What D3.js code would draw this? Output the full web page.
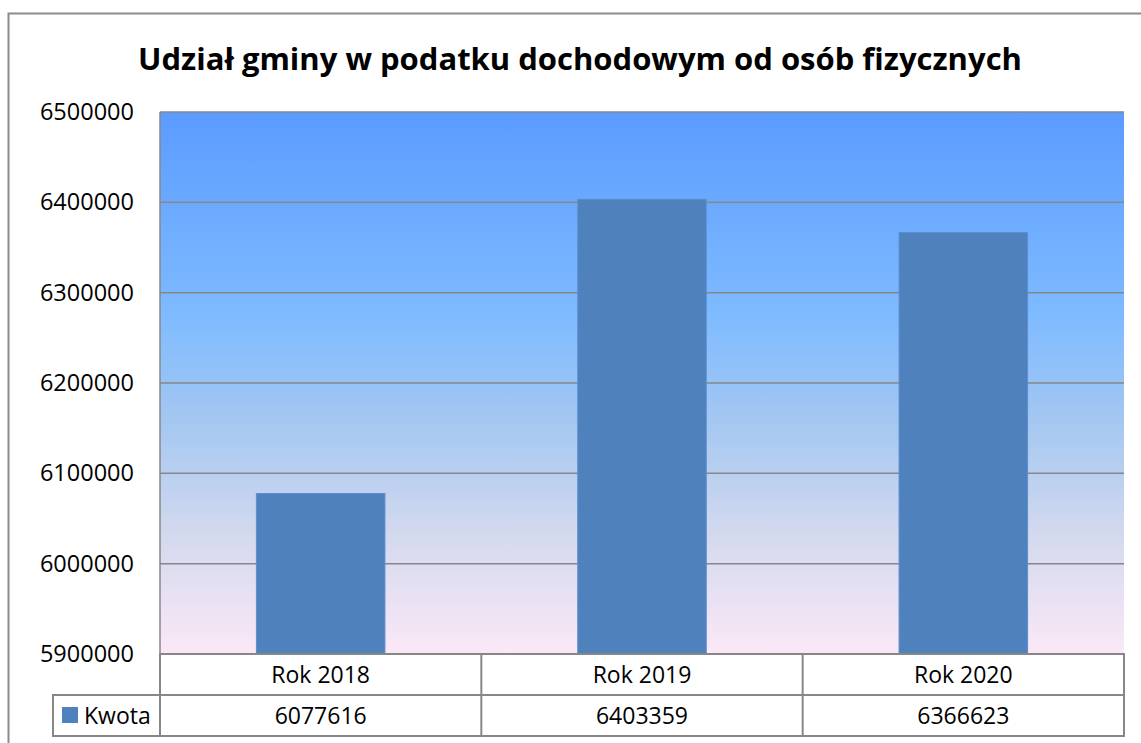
<!DOCTYPE html>
<html>
<head>
<meta charset="utf-8">
<script src="https://cdn.jsdelivr.net/npm/d3@7"></script>
<style>
  body { margin: 0; background: #fff; }
  text { font-family: "Open Sans", sans-serif; fill: #000; }
</style>
</head>
<body>
<svg id="chart"></svg>
<script>
// chart data
const categories = ["Rok 2018", "Rok 2019", "Rok 2020"];
const values = [6077616, 6403359, 6366623];
const seriesName = "Kwota";
const yTicks = [5900000, 6000000, 6100000, 6200000, 6300000, 6400000, 6500000];

let width = 1141;
let height = 743;

let margin = { top: 112, right: 17, bottom: 89, left: 160 };

let svg = d3.select("#chart")
    .attr("width", width)
    .attr("height", height);

// outer chart frame
svg.append("rect")
    .attr("x", 8.5)
    .attr("y", 13.5)
    .attr("width", 1140)
    .attr("height", 740)
    .attr("fill", "white")
    .attr("stroke", "#8c8c8c")
    .attr("stroke-width", 2);

// background gradient of plot area
let defs = svg.append("defs");
let grad = defs.append("linearGradient")
    .attr("id", "bg")
    .attr("x1", 0).attr("y1", 0).attr("x2", 0).attr("y2", 1);
[["0%", "#5b9bff"], ["38%", "#7fbbff"], ["58%", "#a6c8f1"], ["78%", "#d3d9ee"], ["100%", "#fbe8f7"]]
    .forEach(s => grad.append("stop").attr("offset", s[0]).attr("stop-color", s[1]));

let xScale = d3.scaleBand()
    .domain(categories)
    .range([margin.left, width - margin.right])
    .paddingInner(0.6)
    .paddingOuter(0.3);

let yScale = d3.scaleLinear()
    .domain([5900000, 6500000])
    .range([height - margin.bottom, margin.top]);

svg.append("rect")
    .attr("x", margin.left)
    .attr("y", margin.top)
    .attr("width", width - margin.right - margin.left)
    .attr("height", height - margin.bottom - margin.top)
    .attr("fill", "url(#bg)");

// gridlines
svg.selectAll(".grid")
    .data(yTicks)
    .enter().append("line")
    .attr("class", "grid")
    .attr("x1", margin.left)
    .attr("x2", width - margin.right)
    .attr("y1", d => yScale(d))
    .attr("y2", d => yScale(d))
    .attr("stroke", "#878787")
    .attr("stroke-width", 1.5);

// left axis line
svg.append("line")
    .attr("x1", margin.left).attr("x2", margin.left)
    .attr("y1", margin.top).attr("y2", height - margin.bottom)
    .attr("stroke", "#878787")
    .attr("stroke-width", 1.5);

// y labels
let yAxis = svg.append("g")
    .attr("transform", `translate(${margin.left}, 0)`)
    .call(d3.axisLeft(yScale).tickValues(yTicks).tickFormat(d3.format("d")).tickSize(0).tickPadding(26));
yAxis.select(".domain").remove();
yAxis.selectAll("text")
    .style("font-family", "'Open Sans', sans-serif")
    .style("font-size", "23.5px")
    .attr("fill", "#000");

// bars
svg.selectAll(".bar")
    .data(values)
    .enter().append("rect")
    .attr("class", "bar")
    .attr("x", (d, i) => xScale(categories[i]))
    .attr("y", d => yScale(d))
    .attr("width", xScale.bandwidth())
    .attr("height", d => yScale(5900000) - yScale(d))
    .attr("fill", "#4f81bd")
    .attr("stroke", "#5b8fd0")
    .attr("stroke-width", 1);

// data table
let rowTop = height - margin.bottom;
let rowH = 41;
let step = xScale.step();
let colEdges = categories.map((c, i) => margin.left + i * step);
let table = svg.append("g").attr("fill", "none").attr("stroke", "#878787").attr("stroke-width", 2);

table.append("rect")
    .attr("x", margin.left).attr("y", rowTop)
    .attr("width", width - margin.right - margin.left).attr("height", rowH * 2);
table.append("rect")
    .attr("x", 53).attr("y", rowTop + rowH)
    .attr("width", margin.left - 53).attr("height", rowH);
table.append("line")
    .attr("x1", margin.left).attr("x2", width - margin.right)
    .attr("y1", rowTop + rowH).attr("y2", rowTop + rowH);
table.selectAll(".col")
    .data(colEdges.slice(1))
    .enter().append("line")
    .attr("x1", d => d).attr("x2", d => d)
    .attr("y1", rowTop).attr("y2", rowTop + rowH * 2);

svg.selectAll(".cat")
    .data(categories)
    .enter().append("text")
    .attr("x", d => xScale(d) + xScale.bandwidth() / 2)
    .attr("y", rowTop + 29)
    .attr("text-anchor", "middle")
    .style("font-size", "23px")
    .text(d => d);

svg.selectAll(".val")
    .data(values)
    .enter().append("text")
    .attr("x", (d, i) => xScale(categories[i]) + xScale.bandwidth() / 2)
    .attr("y", rowTop + rowH + 29)
    .attr("text-anchor", "middle")
    .style("font-size", "23px")
    .text(d => d);

// legend key
svg.append("rect")
    .attr("x", 62).attr("y", rowTop + rowH + 12)
    .attr("width", 16).attr("height", 16)
    .attr("fill", "#4f81bd");
svg.append("text")
    .attr("x", 84).attr("y", rowTop + rowH + 29)
    .style("font-size", "23px")
    .text(seriesName);

// title
svg.append("text")
    .attr("x", 580)
    .attr("y", 70)
    .attr("text-anchor", "middle")
    .style("font-size", "31px")
    .style("font-weight", "bold")
    .text("Udział gminy w podatku dochodowym od osób fizycznych");
</script>
</body>
</html>
